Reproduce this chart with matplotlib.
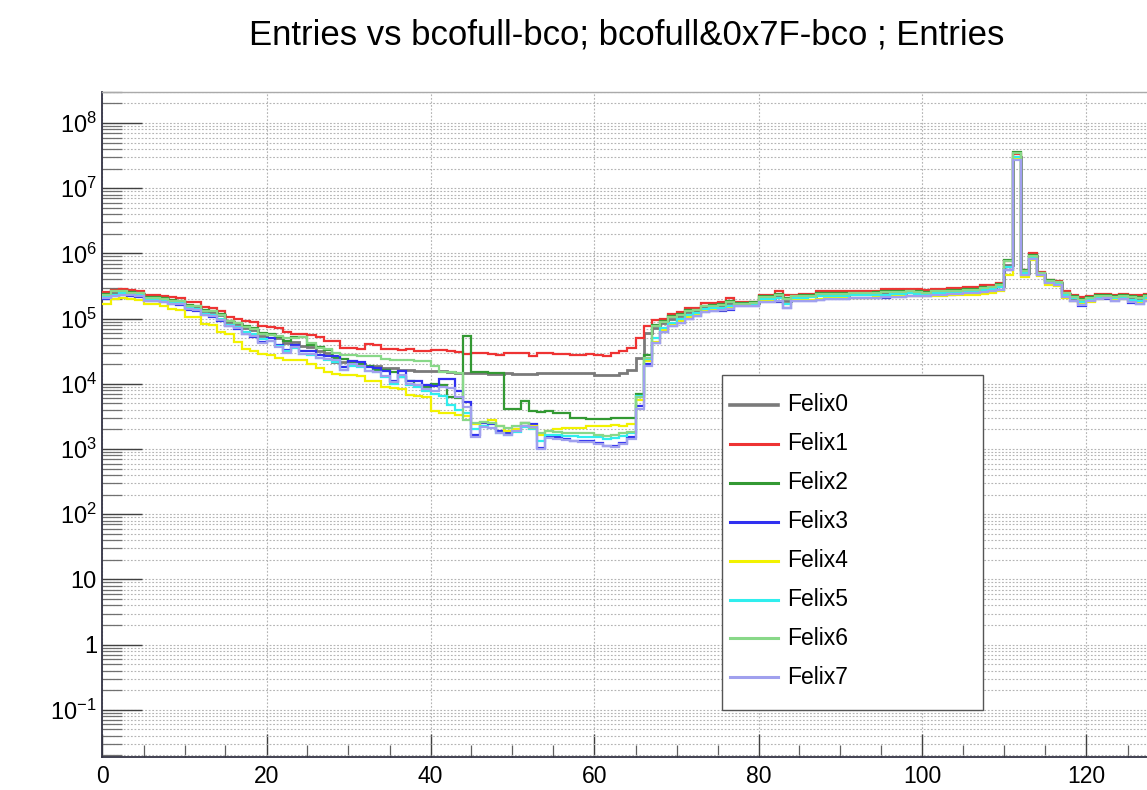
import matplotlib
matplotlib.use("Agg")
import matplotlib.pyplot as plt
import numpy as np
from matplotlib.ticker import FixedLocator, MultipleLocator, LogLocator, NullFormatter, FixedFormatter
from matplotlib.lines import Line2D
from matplotlib.patches import Rectangle

plt.rcParams['font.family'] = ['Liberation Sans', 'DejaVu Sans']
plt.rcParams['mathtext.fontset'] = 'custom'
plt.rcParams['mathtext.rm'] = 'Liberation Sans'
plt.rcParams['mathtext.it'] = 'Liberation Sans:italic'

# ---------------------------------------------------------------- data
title = "Entries vs bcofull-bco; bcofull&0x7F-bco ; Entries"
x_min, x_max, n_bins = 0, 128, 128

series_names = ["Felix0", "Felix1", "Felix2", "Felix3",
                "Felix4", "Felix5", "Felix6", "Felix7"]

felix0 = [
    2.29e5, 2.51e5, 2.57e5, 2.51e5, 2.40e5, 2.04e5, 2.04e5, 2.00e5, 1.86e5, 1.82e5, 1.58e5, 1.51e5, 1.29e5, 1.26e5, 1.12e5, 8.9e4,
    8.3e4, 7.1e4, 6.6e4, 5.5e4, 5.75e4, 5.0e4, 4.17e4, 4.37e4, 3.8e4, 3.63e4, 3.16e4, 2.95e4, 2.19e4, 2.14e4, 2.0e4, 2.0e4,
    1.9e4, 1.86e4, 1.74e4, 1.74e4, 1.66e4, 1.62e4, 1.58e4, 1.58e4, 1.55e4, 1.55e4, 1.51e4, 1.45e4, 1.48e4, 1.45e4, 1.45e4, 1.41e4,
    1.41e4, 1.45e4, 1.41e4, 1.41e4, 1.41e4, 1.45e4, 1.45e4, 1.45e4, 1.45e4, 1.45e4, 1.45e4, 1.45e4, 1.38e4, 1.35e4, 1.38e4, 1.45e4,
    1.66e4, 2.51e4, 6.0e4, 7.1e4, 8.5e4, 1.0e5, 1.1e5, 1.26e5, 1.32e5, 1.51e5, 1.55e5, 1.58e5, 1.74e5, 1.7e5, 1.7e5, 1.74e5,
    2.09e5, 2.09e5, 2.24e5, 1.9e5, 2.14e5, 2.19e5, 2.19e5, 2.34e5, 2.34e5, 2.34e5, 2.34e5, 2.4e5, 2.4e5, 2.4e5, 2.45e5, 2.51e5,
    2.51e5, 2.51e5, 2.57e5, 2.57e5, 2.51e5, 2.63e5, 2.63e5, 2.69e5, 2.69e5, 2.75e5, 2.75e5, 2.88e5, 2.95e5, 3.16e5, 6.6e5, 3.0e7,
    5.1e5, 9.1e5, 4.9e5, 3.7e5, 3.55e5, 2.4e5, 2.09e5, 1.9e5, 2.04e5, 2.19e5, 2.19e5, 2.09e5, 2.19e5, 2.09e5, 2.04e5, 2.19e5,
]
felix1 = [
    2.57e5, 2.75e5, 2.82e5, 2.75e5, 2.69e5, 2.29e5, 2.29e5, 2.24e5, 2.14e5, 2.09e5, 1.82e5, 1.78e5, 1.51e5, 1.48e5, 1.32e5, 1.05e5,
    1.0e5, 9.1e4, 8.9e4, 7.6e4, 7.4e4, 7.2e4, 6.3e4, 5.9e4, 5.9e4, 5.6e4, 5.2e4, 4.6e4, 4.5e4, 3.55e4, 3.55e4, 3.47e4,
    4.07e4, 3.98e4, 3.47e4, 3.39e4, 3.31e4, 3.39e4, 3.24e4, 3.24e4, 3.31e4, 3.31e4, 3.16e4, 3.09e4, 2.88e4, 2.95e4, 2.95e4, 2.88e4,
    2.82e4, 3.02e4, 2.95e4, 2.95e4, 2.69e4, 2.95e4, 2.95e4, 2.88e4, 2.88e4, 2.82e4, 2.82e4, 2.88e4, 2.82e4, 2.69e4, 2.95e4, 3.16e4,
    3.55e4, 5.0e4, 7.6e4, 9.5e4, 1.0e5, 1.2e5, 1.26e5, 1.48e5, 1.48e5, 1.74e5, 1.74e5, 1.78e5, 2.09e5, 1.82e5, 1.82e5, 1.82e5,
    2.34e5, 2.34e5, 2.63e5, 2.34e5, 2.34e5, 2.4e5, 2.4e5, 2.63e5, 2.63e5, 2.63e5, 2.63e5, 2.69e5, 2.63e5, 2.69e5, 2.69e5, 2.82e5,
    2.82e5, 2.82e5, 2.88e5, 2.82e5, 2.75e5, 2.88e5, 2.88e5, 2.95e5, 2.95e5, 3.02e5, 3.02e5, 3.24e5, 3.24e5, 3.55e5, 7.6e5, 3.3e7,
    5.6e5, 1.0e6, 5.2e5, 3.98e5, 3.8e5, 2.63e5, 2.29e5, 2.14e5, 2.24e5, 2.4e5, 2.4e5, 2.29e5, 2.4e5, 2.34e5, 2.29e5, 2.4e5,
]
felix2 = [
    2.4e5, 2.69e5, 2.69e5, 2.57e5, 2.51e5, 2.14e5, 2.14e5, 2.04e5, 1.95e5, 1.9e5, 1.62e5, 1.58e5, 1.35e5, 1.32e5, 1.17e5, 9.3e4,
    8.7e4, 7.6e4, 7.2e4, 6.0e4, 5.9e4, 5.25e4, 4.57e4, 5.25e4, 5.25e4, 3.98e4, 3.63e4, 3.31e4, 2.51e4, 2.4e4, 2.09e4, 2.0e4,
    1.9e4, 1.66e4, 1.66e4, 1.51e4, 1.26e4, 1.12e4, 9.5e3, 9.1e3, 1.0e4, 9.5e3, 6.3e3, 6.0e3, 5.5e4, 1.51e4, 1.51e4, 1.48e4,
    1.48e4, 4.17e3, 4.17e3, 5.5e3, 3.8e3, 3.72e3, 3.8e3, 3.63e3, 3.63e3, 2.95e3, 2.95e3, 2.88e3, 2.88e3, 2.88e3, 2.95e3, 2.95e3,
    3.02e3, 7.1e3, 2.82e4, 7.9e4, 9.1e4, 1.1e5, 1.17e5, 1.35e5, 1.38e5, 1.58e5, 1.62e5, 1.66e5, 1.86e5, 1.74e5, 1.74e5, 1.78e5,
    2.19e5, 2.19e5, 2.4e5, 2.04e5, 2.24e5, 2.29e5, 2.29e5, 2.45e5, 2.45e5, 2.45e5, 2.45e5, 2.51e5, 2.51e5, 2.51e5, 2.57e5, 2.63e5,
    2.63e5, 2.63e5, 2.69e5, 2.63e5, 2.57e5, 2.69e5, 2.69e5, 2.75e5, 2.75e5, 2.82e5, 2.82e5, 3.02e5, 3.09e5, 3.39e5, 7.9e5, 3.6e7,
    5.5e5, 9.5e5, 5.1e5, 3.9e5, 3.7e5, 2.51e5, 2.19e5, 2.0e5, 2.14e5, 2.29e5, 2.29e5, 2.19e5, 2.29e5, 2.19e5, 2.14e5, 2.29e5,
]
felix3 = [
    2.0e5, 2.19e5, 2.29e5, 2.24e5, 2.14e5, 1.86e5, 1.86e5, 1.78e5, 1.66e5, 1.62e5, 1.38e5, 1.32e5, 1.12e5, 1.07e5, 9.3e4, 7.6e4,
    6.9e4, 5.75e4, 5.25e4, 4.37e4, 5.0e4, 3.98e4, 3.31e4, 3.98e4, 3.16e4, 3.16e4, 2.82e4, 2.69e4, 2.63e4, 1.82e4, 2.24e4, 2.19e4,
    1.82e4, 1.78e4, 1.55e4, 1.12e4, 1.58e4, 1.12e4, 1.1e4, 9.5e3, 9.3e3, 1.2e4, 1.17e4, 7.9e3, 5.2e3, 1.66e3, 2.51e3, 2.4e3,
    1.9e3, 1.78e3, 2.0e3, 2.51e3, 2.4e3, 1.05e3, 1.58e3, 1.51e3, 1.45e3, 1.35e3, 1.32e3, 1.32e3, 1.26e3, 1.12e3, 1.1e3, 1.26e3,
    1.51e3, 4.5e3, 2.0e4, 4.17e4, 6.3e4, 7.6e4, 8.7e4, 1.0e5, 1.1e5, 1.26e5, 1.32e5, 1.32e5, 1.38e5, 1.55e5, 1.55e5, 1.58e5,
    1.82e5, 1.82e5, 1.82e5, 1.45e5, 1.9e5, 1.9e5, 1.9e5, 1.95e5, 2.0e5, 2.0e5, 2.0e5, 2.04e5, 2.04e5, 2.04e5, 2.09e5, 2.09e5,
    2.14e5, 2.14e5, 2.19e5, 2.19e5, 2.24e5, 2.29e5, 2.29e5, 2.34e5, 2.4e5, 2.45e5, 2.51e5, 2.51e5, 2.63e5, 2.75e5, 5.6e5, 2.8e7,
    4.6e5, 8.3e5, 4.6e5, 3.47e5, 3.31e5, 2.14e5, 1.9e5, 1.58e5, 1.86e5, 2.0e5, 2.0e5, 1.9e5, 2.0e5, 1.74e5, 1.66e5, 1.9e5,
]
felix4 = [
    1.7e5, 2.0e5, 2.04e5, 2.0e5, 1.95e5, 1.66e5, 1.66e5, 1.58e5, 1.41e5, 1.38e5, 1.07e5, 1.05e5, 8.3e4, 8.1e4, 6.3e4, 5.75e4,
    4.37e4, 3.39e4, 3.16e4, 2.88e4, 2.75e4, 2.51e4, 2.34e4, 2.29e4, 2.29e4, 2.0e4, 1.78e4, 1.51e4, 1.41e4, 1.35e4, 1.35e4, 1.32e4,
    1.12e4, 1.1e4, 8.9e3, 8.7e3, 8.3e3, 6.8e3, 6.6e3, 6.3e3, 3.8e3, 3.63e3, 3.55e3, 3.31e3, 3.16e3, 2.4e3, 2.63e3, 2.82e3,
    2.29e3, 1.9e3, 2.0e3, 2.51e3, 2.24e3, 1.66e3, 1.9e3, 2.0e3, 2.09e3, 2.14e3, 2.14e3, 2.24e3, 2.24e3, 2.29e3, 2.34e3, 2.29e3,
    2.4e3, 5.6e3, 2.24e4, 4.37e4, 6.6e4, 7.9e4, 9.1e4, 1.05e5, 1.15e5, 1.32e5, 1.38e5, 1.38e5, 1.48e5, 1.62e5, 1.62e5, 1.66e5,
    1.86e5, 1.86e5, 1.9e5, 1.66e5, 1.95e5, 1.95e5, 1.95e5, 2.0e5, 2.04e5, 2.04e5, 2.04e5, 2.09e5, 2.09e5, 2.09e5, 2.14e5, 2.14e5,
    2.19e5, 2.19e5, 2.19e5, 2.19e5, 2.24e5, 2.24e5, 2.24e5, 2.29e5, 2.29e5, 2.34e5, 2.34e5, 2.4e5, 2.51e5, 2.63e5, 4.6e5, 2.9e7,
    4.4e5, 7.9e5, 4.5e5, 3.31e5, 3.16e5, 2.09e5, 1.9e5, 1.74e5, 1.82e5, 2.0e5, 2.04e5, 1.95e5, 2.0e5, 1.86e5, 1.78e5, 2.0e5,
]
felix5 = [
    2.14e5, 2.34e5, 2.45e5, 2.4e5, 2.29e5, 2.0e5, 2.0e5, 1.9e5, 1.78e5, 1.74e5, 1.48e5, 1.41e5, 1.2e5, 1.15e5, 1.0e5, 8.1e4,
    7.4e4, 6.3e4, 5.75e4, 4.8e4, 4.57e4, 3.8e4, 3.16e4, 3.55e4, 2.88e4, 2.75e4, 2.51e4, 2.29e4, 2.19e4, 1.66e4, 1.9e4, 1.82e4,
    1.58e4, 1.51e4, 1.26e4, 1.0e4, 1.26e4, 9.5e3, 8.9e3, 7.9e3, 7.1e3, 6.6e3, 4.8e3, 4.0e3, 3.55e3, 2.0e3, 2.24e3, 2.09e3,
    1.74e3, 1.66e3, 1.82e3, 2.19e3, 2.0e3, 1.32e3, 1.66e3, 1.66e3, 1.58e3, 1.58e3, 1.55e3, 1.55e3, 1.51e3, 1.45e3, 1.48e3, 1.58e3,
    1.74e3, 6.6e3, 2.4e4, 5.0e4, 7.2e4, 8.7e4, 1.0e5, 1.15e5, 1.23e5, 1.41e5, 1.48e5, 1.48e5, 1.58e5, 1.66e5, 1.66e5, 1.7e5,
    2.0e5, 2.0e5, 2.09e5, 1.66e5, 2.09e5, 2.09e5, 2.14e5, 2.19e5, 2.24e5, 2.24e5, 2.24e5, 2.29e5, 2.29e5, 2.29e5, 2.34e5, 2.34e5,
    2.4e5, 2.4e5, 2.45e5, 2.4e5, 2.4e5, 2.51e5, 2.51e5, 2.57e5, 2.57e5, 2.63e5, 2.63e5, 2.75e5, 2.82e5, 3.02e5, 6.3e5, 3.0e7,
    5.0e5, 8.9e5, 4.8e5, 3.63e5, 3.47e5, 2.29e5, 2.04e5, 1.82e5, 2.0e5, 2.14e5, 2.14e5, 2.04e5, 2.14e5, 1.95e5, 1.9e5, 2.09e5,
]
felix6 = [
    2.34e5, 2.63e5, 2.63e5, 2.51e5, 2.45e5, 2.09e5, 2.09e5, 2.0e5, 1.9e5, 1.86e5, 1.58e5, 1.55e5, 1.32e5, 1.29e5, 1.15e5, 9.1e4,
    8.5e4, 7.4e4, 6.9e4, 5.75e4, 5.6e4, 5.5e4, 5.0e4, 5.0e4, 5.25e4, 4.17e4, 3.55e4, 3.39e4, 2.95e4, 2.82e4, 2.75e4, 2.69e4,
    2.63e4, 2.63e4, 2.4e4, 2.29e4, 2.29e4, 2.29e4, 2.24e4, 2.24e4, 1.9e4, 1.51e4, 1.51e4, 1.48e4, 2.82e3, 2.51e3, 2.63e3, 2.51e3,
    2.24e3, 2.09e3, 2.24e3, 2.51e3, 2.09e3, 1.78e3, 1.9e3, 1.82e3, 1.78e3, 1.74e3, 1.74e3, 1.74e3, 1.66e3, 1.58e3, 1.66e3, 1.74e3,
    1.82e3, 6.3e3, 2.51e4, 7.6e4, 8.9e4, 1.07e5, 1.15e5, 1.32e5, 1.35e5, 1.55e5, 1.58e5, 1.62e5, 1.82e5, 1.7e5, 1.7e5, 1.74e5,
    2.14e5, 2.14e5, 2.34e5, 2.0e5, 2.19e5, 2.24e5, 2.24e5, 2.4e5, 2.4e5, 2.4e5, 2.4e5, 2.45e5, 2.45e5, 2.45e5, 2.51e5, 2.57e5,
    2.57e5, 2.57e5, 2.63e5, 2.57e5, 2.51e5, 2.63e5, 2.63e5, 2.69e5, 2.69e5, 2.75e5, 2.75e5, 2.95e5, 3.02e5, 3.31e5, 7.6e5, 3.5e7,
    5.4e5, 9.3e5, 5.0e5, 3.8e5, 3.63e5, 2.45e5, 2.14e5, 1.95e5, 2.09e5, 2.24e5, 2.24e5, 2.14e5, 2.24e5, 2.14e5, 2.09e5, 2.24e5,
]
felix7 = [
    2.04e5, 2.24e5, 2.34e5, 2.29e5, 2.19e5, 1.9e5, 1.9e5, 1.82e5, 1.7e5, 1.66e5, 1.41e5, 1.35e5, 1.15e5, 1.1e5, 9.5e4, 7.8e4,
    7.1e4, 5.9e4, 5.4e4, 4.17e4, 4.57e4, 3.63e4, 3.02e4, 3.63e4, 2.88e4, 2.88e4, 2.51e4, 2.4e4, 2.29e4, 1.66e4, 2.0e4, 1.9e4,
    1.58e4, 1.51e4, 1.32e4, 1.05e4, 1.38e4, 1.0e4, 9.5e3, 8.3e3, 7.9e3, 8.9e3, 8.7e3, 6.3e3, 4.47e3, 1.51e3, 2.19e3, 2.14e3,
    1.74e3, 1.66e3, 1.86e3, 2.29e3, 2.19e3, 1.0e3, 1.48e3, 1.45e3, 1.38e3, 1.32e3, 1.29e3, 1.29e3, 1.2e3, 1.1e3, 1.07e3, 1.2e3,
    1.45e3, 4.17e3, 1.9e4, 4.17e4, 6.3e4, 7.6e4, 8.7e4, 1.0e5, 1.1e5, 1.26e5, 1.32e5, 1.35e5, 1.41e5, 1.55e5, 1.55e5, 1.58e5,
    1.82e5, 1.82e5, 1.86e5, 1.48e5, 1.9e5, 1.9e5, 1.9e5, 1.95e5, 2.0e5, 2.0e5, 2.02e5, 2.04e5, 2.06e5, 2.06e5, 2.09e5, 2.12e5,
    2.14e5, 2.17e5, 2.19e5, 2.2e5, 2.24e5, 2.29e5, 2.32e5, 2.36e5, 2.4e5, 2.45e5, 2.51e5, 2.55e5, 2.63e5, 2.75e5, 5.5e5, 2.75e7,
    4.7e5, 8.3e5, 4.6e5, 3.47e5, 3.31e5, 2.14e5, 1.9e5, 1.62e5, 1.86e5, 2.0e5, 2.04e5, 1.9e5, 2.0e5, 1.78e5, 1.7e5, 1.9e5,
]
series_values = [felix0, felix1, felix2, felix3, felix4, felix5, felix6, felix7]

line_colors = ["#7a7a7a", "#ee3333", "#339933", "#3030f0",
               "#f2f200", "#30eeee", "#88d888", "#a0a0ee"]
line_widths = [2.0, 1.6, 1.6, 1.6, 1.6, 1.6, 1.6, 1.6]

y_tick_values = [1e-1, 1e0, 1e1, 1e2, 1e3, 1e4, 1e5, 1e6, 1e7, 1e8]
y_tick_labels = [r"$10^{-1}$", "1", "10", r"$10^{2}$", r"$10^{3}$", r"$10^{4}$",
                 r"$10^{5}$", r"$10^{6}$", r"$10^{7}$", r"$10^{8}$"]

# ---------------------------------------------------------------- figure
W, H = 1147, 790
fig = plt.figure(figsize=(W / 100, H / 100), dpi=100)
fig.patch.set_facecolor("white")

# frame runs past the right border of the canvas
ax = fig.add_axes([102.5 / W, 1 - 757 / H, 1049.6 / W, (757 - 92) / H])
edges = np.linspace(x_min, x_max, n_bins + 1)

for vals, col, lw in zip(series_values, line_colors, line_widths):
    ax.stairs(vals, edges, color=col, linewidth=lw, baseline=None, zorder=3)

ax.set_xlim(x_min, x_max)
ax.set_yscale("log")
ax.set_ylim(0.0189, 3.0e8)

ax.xaxis.set_major_locator(MultipleLocator(20))
ax.xaxis.set_minor_locator(MultipleLocator(5))
ax.yaxis.set_major_locator(FixedLocator(y_tick_values))
ax.yaxis.set_major_formatter(FixedFormatter(y_tick_labels))
ax.yaxis.set_minor_locator(LogLocator(base=10, subs=np.arange(2, 10), numticks=30))
ax.yaxis.set_minor_formatter(NullFormatter())

tick_col = "#404040"
ax.tick_params(axis="y", which="major", direction="in", length=29, width=1.0,
               color=tick_col, labelsize=17, pad=4)
ax.tick_params(axis="y", which="minor", direction="in", length=14.5, width=0.9,
               color="#707070")
ax.tick_params(axis="x", which="major", direction="in", length=16.5, width=1.0,
               color=tick_col, labelsize=16.5, pad=6)
ax.tick_params(axis="x", which="minor", direction="in", length=8.5, width=0.9,
               color="#606060")
ax.tick_params(top=False, right=False)

grid_style = dict(color="#b4b4b4", linestyle=(0, (1.6, 1.6)), linewidth=0.8)
ax.grid(True, axis="y", which="both", **grid_style)
ax.grid(True, axis="x", which="major", **grid_style)
ax.grid(False, axis="x", which="minor")
ax.set_axisbelow(True)

for side in ("left", "bottom"):
    ax.spines[side].set_color("#333344")
    ax.spines[side].set_linewidth(1.3)
ax.spines["top"].set_color("#aaaaaa")
ax.spines["top"].set_linewidth(1.0)

fig.text(627 / W, 1 - 35 / H, title, ha="center", va="center", fontsize=25)

# legend box
fig.add_artist(Rectangle((722 / W, 1 - 710 / H), (983 - 722) / W, (710 - 375) / H,
                         transform=fig.transFigure, facecolor="white",
                         edgecolor="#555555", linewidth=1.0, zorder=5))
for i, (name, col, lw) in enumerate(zip(series_names, line_colors, line_widths)):
    yy = 1 - (405 + 38.9 * i) / H
    fig.add_artist(Line2D([730 / W, 778 / W], [yy, yy], transform=fig.transFigure,
                          color=col, linewidth=lw + 0.6, zorder=6))
    fig.text(787 / W, yy, name, ha="left", va="center", fontsize=16.5, zorder=6)

fig.savefig("out.png", dpi=100)
